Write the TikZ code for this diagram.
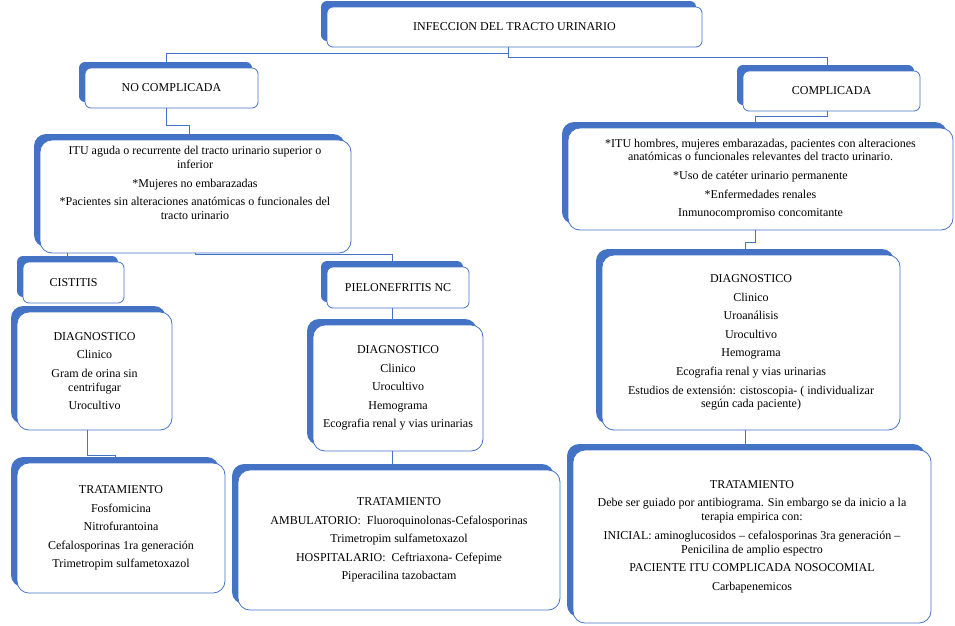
\documentclass[tikz,border=0pt]{standalone}
\usepackage{fontspec}
\setmainfont{Liberation Serif}
\usetikzlibrary{shadows,calc}
\definecolor{myblue}{HTML}{4472C4}
\newcommand\gapbr{\\[4.8pt]}
\tikzset{
  boxbase/.style={draw=myblue, line width=0.8pt, fill=white, inner sep=0pt,
    align=center, font=\fontsize{12}{13.8}\selectfont,
    general shadow={fill=myblue, shadow xshift=-6pt, shadow yshift=6pt}},
  smallbox/.style={boxbase, rounded corners=6pt},
  bigbox/.style={boxbase, rounded corners=12pt},
  txt/.style={align=center, inner sep=0pt, font=\fontsize{12}{13.8}\selectfont},
  conn/.style={draw=myblue, line width=0.8pt}
}
\begin{document}
\begin{tikzpicture}[x=1pt,y=-1pt]
\path[use as bounding box, fill=white] (0,0) rectangle (955,625);

% level 0
\node[smallbox, minimum width=375pt, minimum height=40pt] (top) at (514.5,27) {INFECCION DEL TRACTO URINARIO};

% level 1
\node[smallbox, minimum width=173pt, minimum height=40pt] (nocomp) at (171.5,88) {NO COMPLICADA};
\node[smallbox, minimum width=177pt, minimum height=40pt] (comp) at (831.5,91) {COMPLICADA};

% level 2
\node[bigbox, minimum width=311pt, minimum height=113pt] (itu1) at (195.5,196.5) {};
\node[txt] (itu1t) at (195,183) {ITU aguda o recurrente del tracto urinario superior o\\inferior\gapbr
*Mujeres no embarazadas\gapbr
*Pacientes sin alteraciones anatómicas o funcionales del\\tracto urinario};
\node[bigbox, minimum width=385pt, minimum height=102pt] (itu2) at (760.5,179) {*ITU hombres, mujeres embarazadas, pacientes con alteraciones\\anatómicas o funcionales relevantes del tracto urinario.\gapbr
*Uso de catéter urinario permanente\gapbr
*Enfermedades renales\gapbr
Inmunocompromiso concomitante};

% level 3
\node[smallbox, minimum width=101pt, minimum height=41pt] (cist) at (73.5,282.5) {CISTITIS};
\node[smallbox, minimum width=142pt, minimum height=41pt] (pielo) at (398,287.5) {PIELONEFRITIS NC};

% diagnostics
\node[bigbox, minimum width=155pt, minimum height=118pt] (diag1) at (94.5,371) {DIAGNOSTICO\gapbr
Clinico\gapbr
Gram de orina sin\\centrifugar\gapbr
Urocultivo};
\node[bigbox, minimum width=170pt, minimum height=126pt] (diag2) at (398,388) {DIAGNOSTICO\gapbr
Clinico\gapbr
Urocultivo\gapbr
Hemograma\gapbr
Ecografia renal y vias urinarias};
\node[bigbox, minimum width=298pt, minimum height=175pt] (diag3) at (751,342.5) {DIAGNOSTICO\gapbr
Clinico\gapbr
Uroanálisis\gapbr
Urocultivo\gapbr
Hemograma\gapbr
Ecografia renal y vias urinarias\gapbr
Estudios de extensión: cistoscopia- ( individualizar\\según cada paciente)};

% treatments
\node[bigbox, minimum width=208pt, minimum height=130pt] (trat1) at (121,528) {TRATAMIENTO\gapbr
Fosfomicina\gapbr
Nitrofurantoina\gapbr
Cefalosporinas 1ra generación\gapbr
Trimetropim sulfametoxazol};
\node[bigbox, minimum width=322pt, minimum height=140pt] (trat2) at (399,540) {TRATAMIENTO\gapbr
AMBULATORIO:\ \ Fluoroquinolonas-Cefalosporinas\gapbr
Trimetropim sulfametoxazol\gapbr
HOSPITALARIO:\ \ Ceftriaxona- Cefepime\gapbr
Piperacilina tazobactam};
\node[bigbox, minimum width=358pt, minimum height=173pt] (trat3) at (752,536.5) {TRATAMIENTO\gapbr
Debe ser guiado por antibiograma. Sin embargo se da inicio a la\\terapia empirica con:\gapbr
INICIAL: aminoglucosidos – cefalosporinas 3ra generación –\\Penicilina de amplio espectro\gapbr
PACIENTE ITU COMPLICADA NOSOCOMIAL\gapbr
Carbapenemicos};

% connectors
\draw[conn] ([xshift=-6.5pt]top.south) -- ++(0,6) -| ([xshift=-5.5pt]nocomp.north);
\draw[conn] ([xshift=-6.5pt]top.south) -- ++(0,10) -| ([xshift=-4.5pt]comp.north);
\draw[conn] ([xshift=-5.5pt]nocomp.south) -- ++(0,17) -| ([xshift=-6.5pt]itu1.north);
\draw[conn] ([xshift=-4.5pt]comp.south) -- ++(0,5) -| ([xshift=-5.5pt]itu2.north);
\draw[conn] ([xshift=-6.5pt]cist.north |- itu1.south) -- ([xshift=-6.5pt]cist.north);
\draw[conn] (itu1.south) -- ++(0,1) -| ([xshift=-6pt]pielo.north);
\draw[conn] ([xshift=-6pt]pielo.south) -- ([xshift=-6pt]diag2.north);
\draw[conn] ([xshift=-6pt]diag2.south) -- ([xshift=-7pt]trat2.north);
\draw[conn] ([xshift=-7.5pt]diag1.south) -- ++(0,25) -| ([xshift=-6pt]trat1.north);
\draw[conn] ([xshift=-5.5pt]itu2.south) -- ++(0,12) -| ([xshift=-6pt]diag3.north);
\draw[conn] ([xshift=-6pt]diag3.south) -- ([xshift=-7pt]trat3.north);
\end{tikzpicture}
\end{document}
